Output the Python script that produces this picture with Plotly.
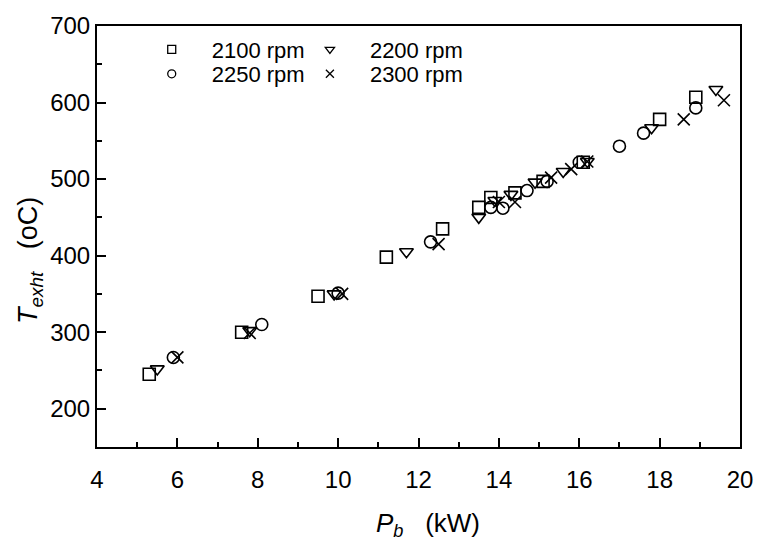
import plotly.graph_objects as go

# Data (P_b in kW, T_exht in oC)
x_2100 = [5.3, 7.6, 9.5, 11.2, 12.6, 13.5, 13.8, 14.4, 15.1, 16.1, 18.0, 18.9]
y_2100 = [245, 300, 347, 398, 435, 463, 476, 482, 497, 522, 578, 607]
x_2200 = [5.5, 7.8, 9.9, 11.7, 13.5, 13.9, 14.3, 14.9, 15.6, 16.2, 17.8, 19.4]
y_2200 = [252, 302, 350, 405, 450, 472, 480, 496, 510, 523, 567, 617]
x_2250 = [5.9, 8.1, 10.0, 12.3, 13.8, 14.1, 14.7, 15.2, 16.0, 17.0, 17.6, 18.9]
y_2250 = [267, 310, 351, 418, 463, 462, 485, 497, 522, 543, 560, 593]
x_2300 = [6.0, 7.8, 10.1, 12.5, 14.0, 14.4, 15.3, 15.8, 16.2, 18.6, 19.6]
y_2300 = [267, 299, 350, 415, 470, 470, 502, 513, 523, 578, 603]

names = ["2100 rpm", "2200 rpm", "2250 rpm", "2300 rpm"]
xs_all = [x_2100, x_2200, x_2250, x_2300]
ys_all = [y_2100, y_2200, y_2250, y_2300]
symbols = ["square-open", "triangle-down-open", "circle-open", "x-thin-open"]
legends = ["legend", "legend2", "legend3", "legend4"]

x_title = "<i>P</i><sub><i>b</i></sub>   (kW)"
y_title = "<i>T</i><sub><i>exht</i></sub>   (oC)"

fig = go.Figure()
for name, xs, ys, sym in zip(names, xs_all, ys_all, symbols):
    fig.add_trace(go.Scatter(
        x=xs, y=ys, mode="markers", name=name, showlegend=False,
        marker=dict(symbol=sym, size=12, color="black",
                    line=dict(color="black", width=1.6)),
    ))
# legend entries (small symbols, as in the reference key)
for name, sym, lg in zip(names, symbols, legends):
    fig.add_trace(go.Scatter(
        x=[None], y=[None], mode="markers", name=name, legend=lg, showlegend=True,
        marker=dict(symbol=sym, size=8, color="black",
                    line=dict(color="black", width=1.3)),
    ))

font = "Liberation Sans, Arial, sans-serif"
axis_common = dict(
    showline=True, linecolor="black", linewidth=2, mirror=True,
    ticks="inside", ticklen=9, tickwidth=2, tickcolor="black",
    showgrid=False, zeroline=False,
    tickfont=dict(family=font, size=24, color="black"),
)
fig.update_xaxes(range=[4, 20], dtick=2, tick0=4, ticklabelstandoff=10,
                 minor=dict(dtick=1, ticks="inside", ticklen=5, tickwidth=2, tickcolor="black"),
                 **axis_common)
fig.update_yaxes(range=[150, 700], dtick=100, tick0=200,
                 minor=dict(dtick=50, ticks="inside", ticklen=5, tickwidth=2, tickcolor="black"),
                 **axis_common)

fig.add_annotation(text=x_title, xref="paper", yref="paper", x=0.515, y=0,
                   xanchor="center", yanchor="middle", yshift=-77, showarrow=False,
                   font=dict(family=font, size=26, color="black"))
fig.add_annotation(text=y_title, xref="paper", yref="paper", x=0, y=0.442,
                   xanchor="center", yanchor="middle", xshift=-67, textangle=-90,
                   showarrow=False, font=dict(family=font, size=27, color="black"))

legend_common = dict(
    bgcolor="rgba(0,0,0,0)", borderwidth=0,
    font=dict(family=font, size=22, color="black"),
    itemsizing="trace", itemwidth=70,
    xanchor="left", yanchor="middle",
)
col1, col2 = 0.054, 0.30
row1, row2 = 0.944, 0.886
fig.update_layout(
    width=781, height=560,
    margin=dict(l=97, r=41, t=18, b=113),
    plot_bgcolor="white", paper_bgcolor="white",
    showlegend=True,
    legend=dict(x=col1, y=row1, **legend_common),
    legend2=dict(x=col2, y=row1, **legend_common),
    legend3=dict(x=col1, y=row2, **legend_common),
    legend4=dict(x=col2, y=row2, **legend_common),
)

fig.write_html("out.html")
